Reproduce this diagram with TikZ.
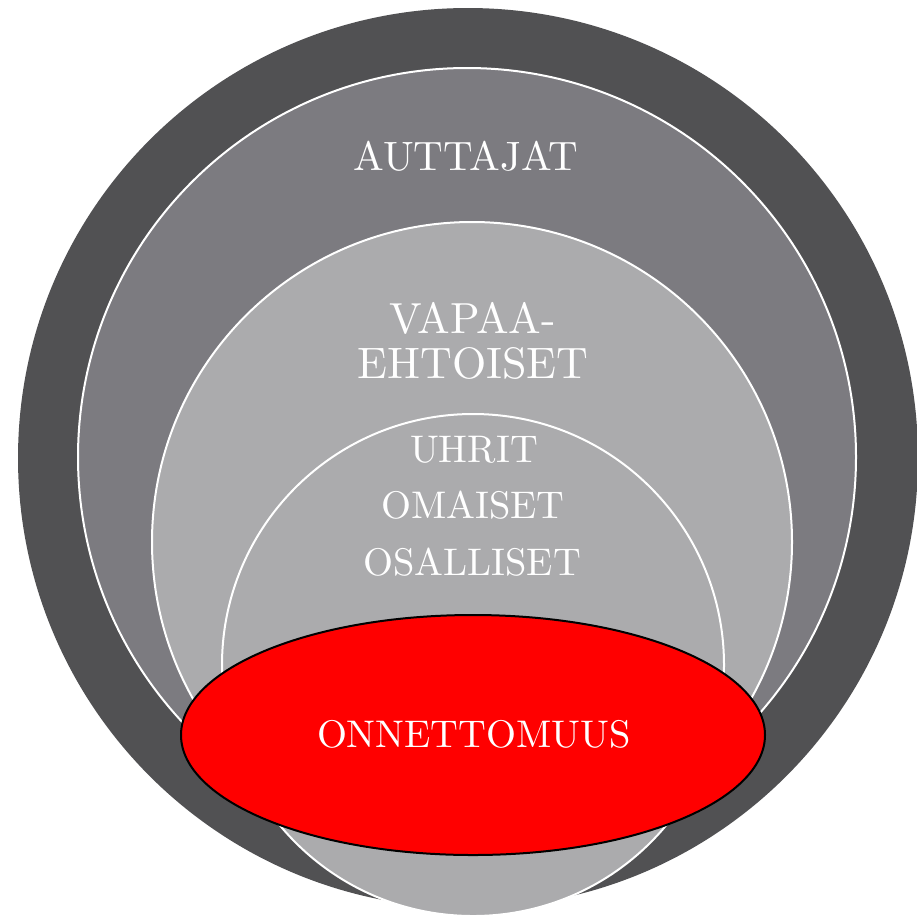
\documentclass[tikz,border=0pt]{standalone}
\usepackage{graphicx}
\definecolor{ringdark}{HTML}{515153}
\definecolor{ringmid}{HTML}{7C7B80}
\definecolor{ringlight}{HTML}{ABABAD}
\definecolor{accred}{HTML}{FF0000}
\newcommand{\sclbl}[2]{\scalebox{#1}{\fontsize{10}{12}\selectfont #2}}
\tikzset{
  ringline/.style={draw=white, line width=2pt},
  lbl/.style={text=white, anchor=base, inner sep=0pt},
}
\begin{document}
\begin{tikzpicture}[x=1pt,y=-1pt]
\useasboundingbox (0,0) rectangle (917,914);
\fill[ringdark] (468,458) circle (450pt);
\fill[ringmid, ringline] (467,457) circle (389pt);
\fill[ringlight, ringline] (472,542) circle (320pt);
\fill[ringlight, ringline] (473,665) circle (251pt);
\fill[accred, draw=black, line width=2pt] (473,735) ellipse [x radius=292pt, y radius=120pt];
\node[lbl] (auttajat) at (466,170) {\sclbl{4.1}{AUTTAJAT}};
\node[lbl] (vapaa) at (473,333) {\sclbl{4.35}{VAPAA-}};
\node[lbl] (ehtoiset) at (473,378) {\sclbl{4.4}{EHTOISET}};
\node[lbl] (uhrit) at (474,462) {\sclbl{3.85}{UHRIT}};
\node[lbl] (omaiset) at (473,518) {\sclbl{3.85}{OMAISET}};
\node[lbl] (osalliset) at (472,575) {\sclbl{3.85}{OSALLISET}};
\node[lbl] (onnettomuus) at (474,747) {\sclbl{3.85}{ONNETTOMUUS}};
\end{tikzpicture}
\end{document}
